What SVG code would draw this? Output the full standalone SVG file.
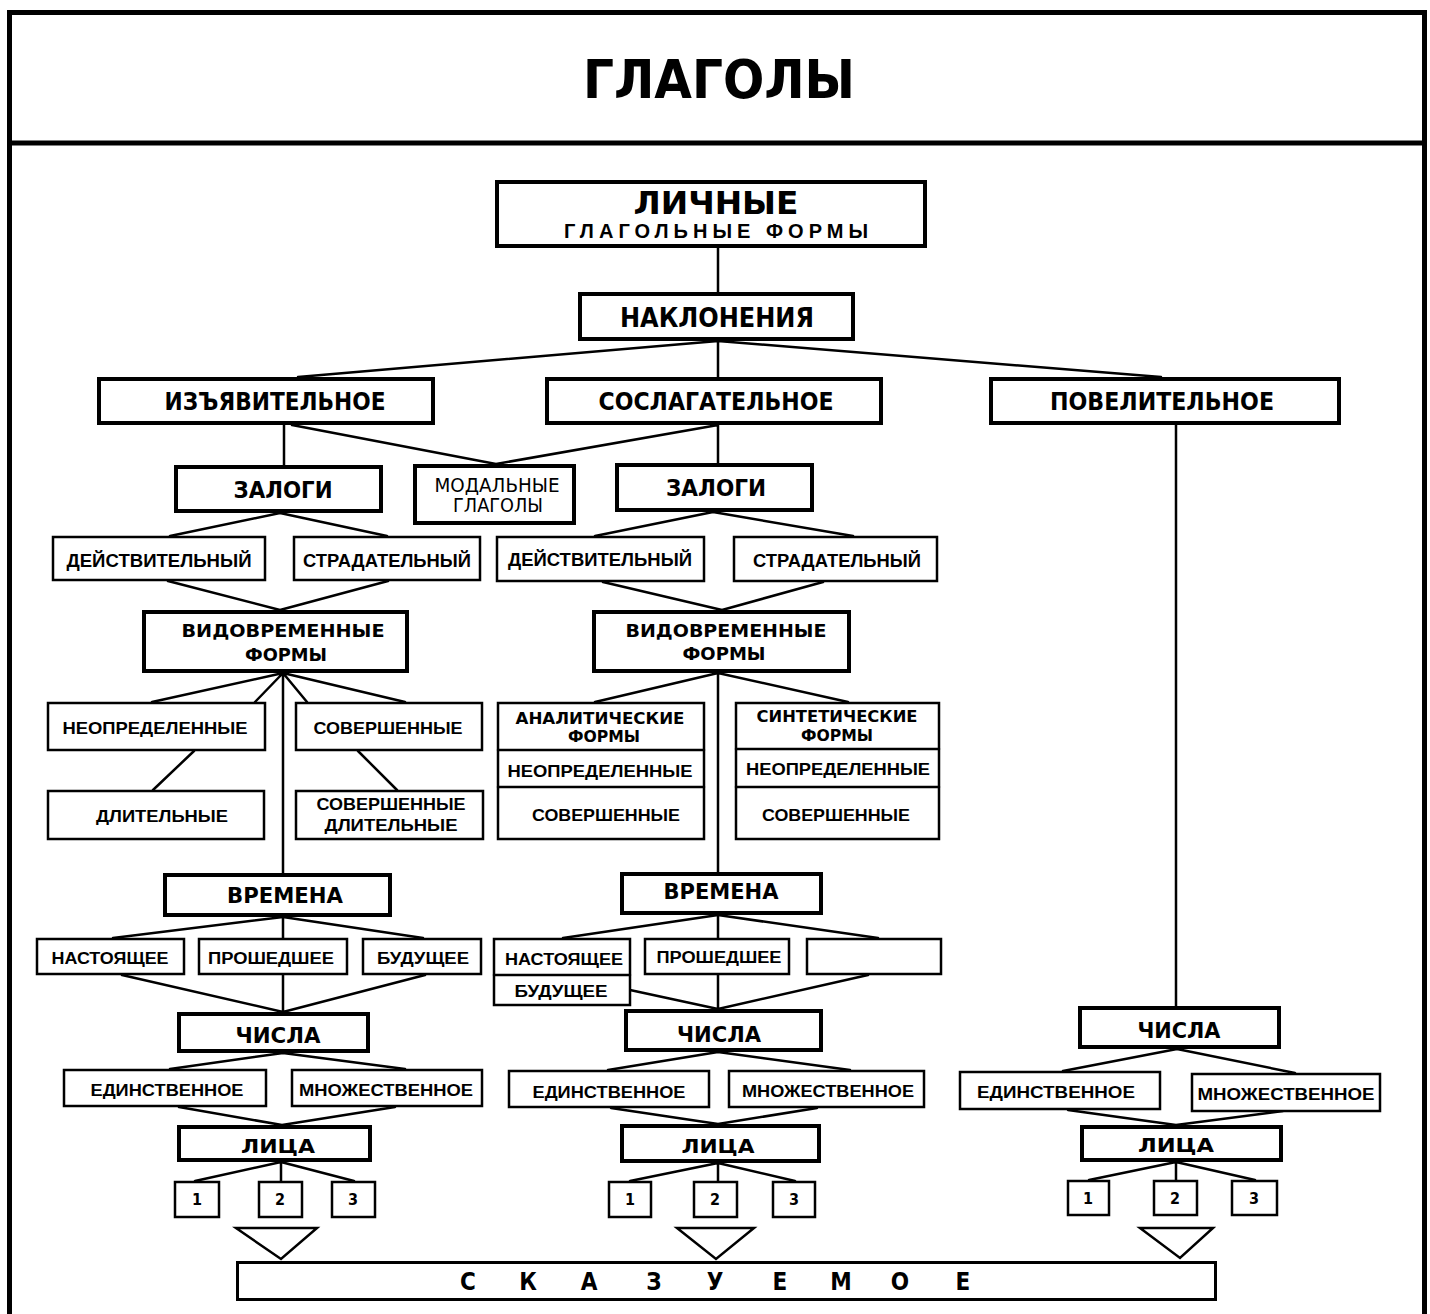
<svg xmlns="http://www.w3.org/2000/svg" width="1430" height="1314" viewBox="0 0 1430 1314">
<style>
.bk{fill:#fff;stroke:#000;stroke-width:4}
.bn{fill:#fff;stroke:#000;stroke-width:2.5}
.ln{fill:none;stroke:#000;stroke-width:2.5;stroke-linecap:round}
.tri{fill:#fff;stroke:#000;stroke-width:2.5;stroke-linejoin:miter}
text{text-anchor:middle;fill:#000}
.t1{font-family:"Liberation Sans Narrow","DejaVu Sans Condensed","Liberation Sans",sans-serif;font-weight:bold}
.t2{font-family:"Liberation Sans","Arial",sans-serif;font-weight:bold}
.t3{font-family:"DejaVu Sans","Liberation Sans",sans-serif;font-weight:bold}
.tr{font-family:"Liberation Sans Narrow","DejaVu Sans Condensed","Liberation Sans",sans-serif;font-weight:normal}
</style>
<rect width="1430" height="1314" fill="#fff"/>
<g id="frame">
<rect x="9.5" y="12.5" width="1415" height="1320" fill="none" stroke="#000" stroke-width="5"/>
<line x1="9" y1="143" x2="1425" y2="143" stroke="#000" stroke-width="5"/>
<text class="t1" x="719" y="98" font-size="54" textLength="272" lengthAdjust="spacingAndGlyphs">ГЛАГОЛЫ</text>
</g>
<g id="connectors">
<path class="ln" d="M718,248V292"/>
<path class="ln" d="M718,341L298,377M718,341V377M718,341L1161,377"/>
<path class="ln" d="M284,425V465M292,425L496,464M718,425L496,464M718,425V463"/>
<path class="ln" d="M1176,425V1006"/>
<path class="ln" d="M280,513L170,536M280,513L387,536"/>
<path class="ln" d="M713,512L595,536M713,512L853,536"/>
<path class="ln" d="M168,581L280,610M388,581L280,610"/>
<path class="ln" d="M603,582L722,610M823,582L722,610"/>
<path class="ln" d="M283,673L152,702M283,673L255,702M283,673L307,702M283,673L405,702M283,673V873"/>
<path class="ln" d="M718,673L595,702M718,673L848,702M718,673V872"/>
<path class="ln" d="M194,751L153,790M358,751L397,790"/>
<path class="ln" d="M283,917L113,938M283,917V938M283,917L423,938"/>
<path class="ln" d="M122,975L283,1012M283,975V1012M425,975L283,1012"/>
<path class="ln" d="M718,915L563,938M718,915V938M718,915L878,938"/>
<path class="ln" d="M630,990L718,1009M718,975V1009M868,975L718,1009"/>
<path class="ln" d="M283,1053L170,1069M283,1053L405,1069"/>
<path class="ln" d="M718,1052L608,1070M718,1052L850,1070"/>
<path class="ln" d="M1177,1049L1063,1071M1177,1049L1295,1073"/>
<path class="ln" d="M179,1107L282,1125M395,1107L282,1125"/>
<path class="ln" d="M611,1108L718,1124M817,1108L718,1124"/>
<path class="ln" d="M1068,1110L1176,1125M1283,1111L1176,1125"/>
<path class="ln" d="M281,1162L195,1181M281,1162V1181M281,1162L354,1181"/>
<path class="ln" d="M718,1163L630,1181M718,1163V1181M718,1163L795,1181"/>
<path class="ln" d="M1176,1162L1089,1180M1176,1162V1180M1176,1162L1255,1180"/>
<polygon class="tri" points="236,1228 317,1228 281,1259"/>
<polygon class="tri" points="677,1228 754,1228 716,1259"/>
<polygon class="tri" points="1140,1228 1213,1228 1180,1258"/>
</g>
<g id="lichnye"><rect class="bk" x="497" y="182" width="428" height="64"/>
<text class="t1" x="716" y="214" font-size="32" textLength="165" lengthAdjust="spacingAndGlyphs">ЛИЧНЫЕ</text>
<text class="t2" x="716" y="238" font-size="20" textLength="304" lengthAdjust="spacing">ГЛАГОЛЬНЫЕ ФОРМЫ</text></g>
<g id="naklonenia"><rect class="bk" x="580" y="294" width="273" height="45"/>
<text class="t1" x="717" y="327" font-size="26" textLength="194" lengthAdjust="spacingAndGlyphs">НАКЛОНЕНИЯ</text></g>
<g id="izyavitelnoe"><rect class="bk" x="99" y="379" width="334" height="44"/>
<text class="t1" x="275" y="410" font-size="24" textLength="221" lengthAdjust="spacingAndGlyphs">ИЗЪЯВИТЕЛЬНОЕ</text></g>
<g id="soslagatelnoe"><rect class="bk" x="547" y="379" width="334" height="44"/>
<text class="t1" x="716" y="410" font-size="24" textLength="235" lengthAdjust="spacingAndGlyphs">СОСЛАГАТЕЛЬНОЕ</text></g>
<g id="povelitelnoe"><rect class="bk" x="991" y="379" width="348" height="44"/>
<text class="t1" x="1162" y="410" font-size="24" textLength="224" lengthAdjust="spacingAndGlyphs">ПОВЕЛИТЕЛЬНОЕ</text></g>
<g id="zalogi1"><rect class="bk" x="176" y="467" width="205" height="44"/>
<text class="t1" x="283" y="498" font-size="23" textLength="99" lengthAdjust="spacingAndGlyphs">ЗАЛОГИ</text></g>
<g id="modalnye"><rect class="bk" x="415" y="466" width="159" height="57"/>
<text class="tr" x="497" y="492" font-size="19" textLength="125" lengthAdjust="spacingAndGlyphs">МОДАЛЬНЫЕ</text>
<text class="tr" x="498" y="512" font-size="19" textLength="90" lengthAdjust="spacingAndGlyphs">ГЛАГОЛЫ</text></g>
<g id="zalogi2"><rect class="bk" x="617" y="465" width="195" height="45"/>
<text class="t1" x="716" y="496" font-size="23" textLength="100" lengthAdjust="spacingAndGlyphs">ЗАЛОГИ</text></g>
<g id="deistv1"><rect class="bn" x="53" y="537" width="212" height="43"/>
<text class="t2" x="159" y="567" font-size="18" textLength="185" lengthAdjust="spacingAndGlyphs">ДЕЙСТВИТЕЛЬНЫЙ</text></g>
<g id="strad1"><rect class="bn" x="294" y="537" width="186" height="43"/>
<text class="t2" x="387" y="567" font-size="18" textLength="168" lengthAdjust="spacingAndGlyphs">СТРАДАТЕЛЬНЫЙ</text></g>
<g id="deistv2"><rect class="bn" x="497" y="537" width="207" height="44"/>
<text class="t2" x="600" y="566" font-size="18" textLength="184" lengthAdjust="spacingAndGlyphs">ДЕЙСТВИТЕЛЬНЫЙ</text></g>
<g id="strad2"><rect class="bn" x="734" y="537" width="203" height="44"/>
<text class="t2" x="837" y="567" font-size="18" textLength="168" lengthAdjust="spacingAndGlyphs">СТРАДАТЕЛЬНЫЙ</text></g>
<g id="vidovr1"><rect class="bk" x="144" y="612" width="263" height="59"/>
<text class="t3" x="283" y="637" font-size="18" textLength="203" lengthAdjust="spacingAndGlyphs">ВИДОВРЕМЕННЫЕ</text>
<text class="t3" x="286" y="661" font-size="18" textLength="82" lengthAdjust="spacingAndGlyphs">ФОРМЫ</text></g>
<g id="vidovr2"><rect class="bk" x="594" y="612" width="255" height="59"/>
<text class="t3" x="726" y="637" font-size="18" textLength="201" lengthAdjust="spacingAndGlyphs">ВИДОВРЕМЕННЫЕ</text>
<text class="t3" x="724" y="660" font-size="18" textLength="83" lengthAdjust="spacingAndGlyphs">ФОРМЫ</text></g>
<g id="neopr1"><rect class="bn" x="48" y="703" width="217" height="47"/>
<text class="t2" x="155" y="734" font-size="17" textLength="185" lengthAdjust="spacingAndGlyphs">НЕОПРЕДЕЛЕННЫЕ</text></g>
<g id="sover1"><rect class="bn" x="296" y="703" width="186" height="47"/>
<text class="t2" x="388" y="734" font-size="17" textLength="149" lengthAdjust="spacingAndGlyphs">СОВЕРШЕННЫЕ</text></g>
<g id="dlit"><rect class="bn" x="48" y="791" width="216" height="48"/>
<text class="t2" x="162" y="822" font-size="17" textLength="132" lengthAdjust="spacingAndGlyphs">ДЛИТЕЛЬНЫЕ</text></g>
<g id="sovdlit"><rect class="bn" x="296" y="791" width="187" height="48"/>
<text class="t2" x="391" y="810" font-size="17" textLength="149" lengthAdjust="spacingAndGlyphs">СОВЕРШЕННЫЕ</text>
<text class="t2" x="391" y="831" font-size="17" textLength="133" lengthAdjust="spacingAndGlyphs">ДЛИТЕЛЬНЫЕ</text></g>
<g id="analit"><rect class="bn" x="498" y="703" width="206" height="136"/>
<path class="ln" d="M498,750H704M498,787H704"/>
<text class="t3" x="600" y="724" font-size="15" textLength="169" lengthAdjust="spacingAndGlyphs">АНАЛИТИЧЕСКИЕ</text>
<text class="t3" x="604" y="742" font-size="15" textLength="72" lengthAdjust="spacingAndGlyphs">ФОРМЫ</text>
<text class="t2" x="600" y="777" font-size="17" textLength="185" lengthAdjust="spacingAndGlyphs">НЕОПРЕДЕЛЕННЫЕ</text>
<text class="t2" x="606" y="821" font-size="17" textLength="148" lengthAdjust="spacingAndGlyphs">СОВЕРШЕННЫЕ</text></g>
<g id="sintet"><rect class="bn" x="736" y="703" width="203" height="136"/>
<path class="ln" d="M736,749H939M736,787H939"/>
<text class="t3" x="837" y="722" font-size="15" textLength="161" lengthAdjust="spacingAndGlyphs">СИНТЕТИЧЕСКИЕ</text>
<text class="t3" x="837" y="741" font-size="15" textLength="72" lengthAdjust="spacingAndGlyphs">ФОРМЫ</text>
<text class="t2" x="838" y="775" font-size="17" textLength="184" lengthAdjust="spacingAndGlyphs">НЕОПРЕДЕЛЕННЫЕ</text>
<text class="t2" x="836" y="821" font-size="17" textLength="148" lengthAdjust="spacingAndGlyphs">СОВЕРШЕННЫЕ</text></g>
<g id="vremena1"><rect class="bk" x="165" y="875" width="225" height="40"/>
<text class="t3" x="285" y="903" font-size="21" textLength="116" lengthAdjust="spacingAndGlyphs">ВРЕМЕНА</text></g>
<g id="vremena2"><rect class="bk" x="622" y="874" width="199" height="39"/>
<text class="t3" x="721" y="899" font-size="21" textLength="115" lengthAdjust="spacingAndGlyphs">ВРЕМЕНА</text></g>
<g id="nast1"><rect class="bn" x="37" y="939" width="147" height="35"/>
<text class="t2" x="110" y="964" font-size="16" textLength="117" lengthAdjust="spacingAndGlyphs">НАСТОЯЩЕЕ</text></g>
<g id="prosh1"><rect class="bn" x="199" y="939" width="148" height="35"/>
<text class="t2" x="271" y="964" font-size="16" textLength="126" lengthAdjust="spacingAndGlyphs">ПРОШЕДШЕЕ</text></g>
<g id="bud1"><rect class="bn" x="363" y="939" width="118" height="35"/>
<text class="t2" x="423" y="964" font-size="16" textLength="92" lengthAdjust="spacingAndGlyphs">БУДУЩЕЕ</text></g>
<g id="nastbud2"><rect class="bn" x="494" y="939" width="136" height="66"/>
<path class="ln" d="M494,975H630"/>
<text class="t2" x="564" y="965" font-size="16" textLength="118" lengthAdjust="spacingAndGlyphs">НАСТОЯЩЕЕ</text>
<text class="t2" x="561" y="997" font-size="16" textLength="93" lengthAdjust="spacingAndGlyphs">БУДУЩЕЕ</text></g>
<g id="prosh2"><rect class="bn" x="645" y="939" width="144" height="35"/>
<text class="t2" x="719" y="963" font-size="16" textLength="125" lengthAdjust="spacingAndGlyphs">ПРОШЕДШЕЕ</text></g>
<g id="empty2"><rect class="bn" x="807" y="939" width="134" height="35"/></g>
<g id="chisla1"><rect class="bk" x="179" y="1014" width="189" height="37"/>
<text class="t1" x="278" y="1043" font-size="22" textLength="85" lengthAdjust="spacingAndGlyphs">ЧИСЛА</text></g>
<g id="chisla2"><rect class="bk" x="626" y="1011" width="195" height="39"/>
<text class="t1" x="719" y="1042" font-size="22" textLength="84" lengthAdjust="spacingAndGlyphs">ЧИСЛА</text></g>
<g id="chisla3"><rect class="bk" x="1080" y="1008" width="199" height="39"/>
<text class="t1" x="1179" y="1038" font-size="22" textLength="83" lengthAdjust="spacingAndGlyphs">ЧИСЛА</text></g>
<g id="edin1"><rect class="bn" x="64" y="1070" width="202" height="36"/>
<text class="t2" x="167" y="1096" font-size="17" textLength="153" lengthAdjust="spacingAndGlyphs">ЕДИНСТВЕННОЕ</text></g>
<g id="mnozh1"><rect class="bn" x="292" y="1070" width="190" height="36"/>
<text class="t2" x="386" y="1096" font-size="17" textLength="174" lengthAdjust="spacingAndGlyphs">МНОЖЕСТВЕННОЕ</text></g>
<g id="edin2"><rect class="bn" x="509" y="1071" width="200" height="36"/>
<text class="t2" x="609" y="1098" font-size="17" textLength="153" lengthAdjust="spacingAndGlyphs">ЕДИНСТВЕННОЕ</text></g>
<g id="mnozh2"><rect class="bn" x="729" y="1071" width="195" height="36"/>
<text class="t2" x="828" y="1097" font-size="17" textLength="172" lengthAdjust="spacingAndGlyphs">МНОЖЕСТВЕННОЕ</text></g>
<g id="edin3"><rect class="bn" x="960" y="1072" width="200" height="37"/>
<text class="t2" x="1056" y="1098" font-size="17" textLength="158" lengthAdjust="spacingAndGlyphs">ЕДИНСТВЕННОЕ</text></g>
<g id="mnozh3"><rect class="bn" x="1192" y="1074" width="188" height="37"/>
<text class="t2" x="1286" y="1100" font-size="17" textLength="177" lengthAdjust="spacingAndGlyphs">МНОЖЕСТВЕННОЕ</text></g>
<g id="lica1"><rect class="bk" x="179" y="1127" width="191" height="33"/>
<text class="t1" x="278" y="1153" font-size="20" textLength="74" lengthAdjust="spacingAndGlyphs">ЛИЦА</text></g>
<g id="lica2"><rect class="bk" x="622" y="1126" width="197" height="35"/>
<text class="t1" x="718" y="1153" font-size="20" textLength="73" lengthAdjust="spacingAndGlyphs">ЛИЦА</text></g>
<g id="lica3"><rect class="bk" x="1082" y="1127" width="199" height="33"/>
<text class="t1" x="1176" y="1152" font-size="20" textLength="76" lengthAdjust="spacingAndGlyphs">ЛИЦА</text></g>
<g id="p1a"><rect class="bn" x="175" y="1182" width="44" height="35"/><text class="t1" x="197" y="1205" font-size="16">1</text></g>
<g id="p2a"><rect class="bn" x="259" y="1182" width="43" height="35"/><text class="t1" x="280" y="1205" font-size="16">2</text></g>
<g id="p3a"><rect class="bn" x="332" y="1182" width="43" height="35"/><text class="t1" x="353" y="1205" font-size="16">3</text></g>
<g id="p1b"><rect class="bn" x="609" y="1182" width="42" height="35"/><text class="t1" x="630" y="1205" font-size="16">1</text></g>
<g id="p2b"><rect class="bn" x="694" y="1182" width="43" height="35"/><text class="t1" x="715" y="1205" font-size="16">2</text></g>
<g id="p3b"><rect class="bn" x="773" y="1182" width="42" height="35"/><text class="t1" x="794" y="1205" font-size="16">3</text></g>
<g id="p1c"><rect class="bn" x="1068" y="1181" width="41" height="34"/><text class="t1" x="1088" y="1204" font-size="16">1</text></g>
<g id="p2c"><rect class="bn" x="1154" y="1181" width="43" height="34"/><text class="t1" x="1175" y="1204" font-size="16">2</text></g>
<g id="p3c"><rect class="bn" x="1232" y="1181" width="45" height="34"/><text class="t1" x="1254" y="1204" font-size="16">3</text></g>
<g id="skazuemoe"><rect x="237.5" y="1262.5" width="978" height="37" fill="#fff" stroke="#000" stroke-width="3"/>
<text class="t1" x="468 528 589 654 715 780 841 900 963" y="1290" font-size="24">СКАЗУЕМОЕ</text></g>
</svg>
